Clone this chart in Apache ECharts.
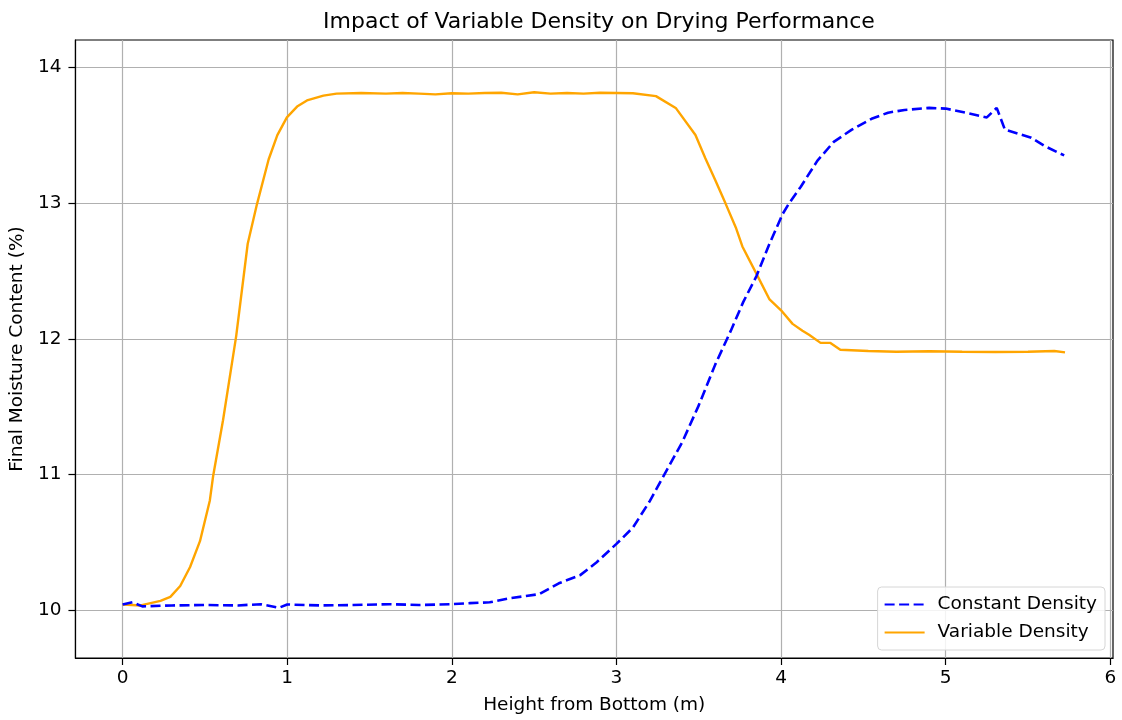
<!DOCTYPE html>
<html>
<head>
<meta charset="utf-8">
<script src="https://cdn.jsdelivr.net/npm/echarts@6/dist/echarts.min.js"></script>
<style>html,body{margin:0;padding:0;background:#fff}#c{width:1122px;height:720px}</style>
</head>
<body>
<div id="c"></div>
<script>
// Constant Density
const constX = [0.0, 0.06, 0.12, 0.3, 0.5, 0.7, 0.84, 0.95, 1.0, 1.2, 1.4, 1.62, 1.8, 1.99, 2.11, 2.23, 2.35, 2.53, 2.65, 2.78, 2.88, 3.0, 3.1, 3.2, 3.3, 3.4, 3.5, 3.6, 3.695, 3.77, 3.85, 3.93, 4.01, 4.05, 4.12, 4.22, 4.32, 4.43, 4.55, 4.65, 4.75, 4.9, 5.0, 5.12, 5.25, 5.31, 5.36, 5.52, 5.6, 5.72];
const constY = [10.044, 10.06, 10.03, 10.037, 10.04, 10.037, 10.046, 10.02, 10.044, 10.037, 10.04, 10.046, 10.04, 10.046, 10.054, 10.06, 10.09, 10.12, 10.20, 10.26, 10.355, 10.49, 10.61, 10.80, 11.02, 11.24, 11.51, 11.81, 12.06, 12.27, 12.46, 12.70, 12.92, 13.00, 13.12, 13.31, 13.45, 13.54, 13.62, 13.665, 13.685, 13.70, 13.695, 13.665, 13.63, 13.70, 13.54, 13.48, 13.42, 13.35];
// Variable Density
const varX = [0.0, 0.11, 0.23, 0.29, 0.35, 0.41, 0.47, 0.53, 0.55, 0.61, 0.69, 0.76, 0.816, 0.887, 0.94, 0.998, 1.06, 1.12, 1.22, 1.30, 1.45, 1.6, 1.7, 1.8, 1.9, 2.0, 2.1, 2.2, 2.3, 2.4, 2.5, 2.6, 2.7, 2.8, 2.9, 3.0, 3.1, 3.24, 3.36, 3.48, 3.54, 3.60, 3.665, 3.725, 3.765, 3.85, 3.93, 4.0, 4.07, 4.13, 4.17, 4.24, 4.30, 4.36, 4.53, 4.7, 4.9, 5.1, 5.3, 5.5, 5.66, 5.725];
const varY = [10.044, 10.037, 10.07, 10.10, 10.18, 10.32, 10.51, 10.81, 10.99, 11.40, 12.02, 12.70, 12.99, 13.32, 13.50, 13.63, 13.71, 13.755, 13.79, 13.805, 13.81, 13.805, 13.81, 13.805, 13.80, 13.808, 13.805, 13.81, 13.812, 13.80, 13.815, 13.805, 13.81, 13.805, 13.812, 13.81, 13.808, 13.787, 13.70, 13.50, 13.33, 13.17, 12.99, 12.82, 12.68, 12.48, 12.29, 12.21, 12.11, 12.06, 12.03, 11.97, 11.97, 11.92, 11.91, 11.905, 11.908, 11.905, 11.903, 11.905, 11.91, 11.90];
const xTicks = [0, 1, 2, 3, 4, 5, 6];
const yTicks = [10, 11, 12, 13, 14];

const zip = (a, b) => a.map((v, i) => [v, b[i]]);
const font = 'DejaVu Sans';
const chart = echarts.init(document.getElementById('c'), null, {renderer: 'canvas'});
const frame = {show: true, onZero: false, lineStyle: {color: '#000', width: 1.2}};
chart.setOption({
  animation: false,
  backgroundColor: '#fff',
  textStyle: {fontFamily: font},
  title: {
    text: 'Impact of Variable Density on Drying Performance',
    left: 594, top: 6, textAlign: 'center',
    textStyle: {fontFamily: font, fontSize: 22, fontWeight: 'normal', color: '#000'}
  },
  grid: {left: 75, right: 9, top: 40, bottom: 62, containLabel: false, show: true, borderColor: '#000', borderWidth: 1.2},
  legend: {
    orient: 'vertical', right: 17, bottom: 70,
    data: ['Constant Density', 'Variable Density'],
    itemWidth: 40, itemHeight: 14, itemGap: 9,
    padding: [8, 8, 8, 6],
    borderColor: '#d6d6d6', borderWidth: 1, borderRadius: 4,
    backgroundColor: 'rgba(255,255,255,0.85)',
    itemStyle: {opacity: 0},
    textStyle: {fontFamily: font, fontSize: 18.5, color: '#000', padding: [0, 0, 0, 8]}
  },
  xAxis: {
    type: 'value', min: -0.2865, max: 6.0165,
    name: 'Height from Bottom (m)', nameLocation: 'middle', nameGap: 38,
    nameTextStyle: {fontFamily: font, fontSize: 18.5, color: '#000'},
    axisLine: frame,
    axisTick: {show: true, length: 7, inside: false, customValues: xTicks, lineStyle: {color: '#000', width: 1.2}},
    axisLabel: {customValues: xTicks, fontFamily: font, fontSize: 18.5, color: '#000', margin: 11, formatter: v => String(v)},
    splitLine: {show: true, customValues: xTicks, lineStyle: {color: '#b0b0b0', width: 1.2}}
  },
  yAxis: {
    type: 'value', min: 9.65, max: 14.2,
    name: 'Final Moisture Content (%)', nameLocation: 'middle', nameGap: 41,
    nameTextStyle: {fontFamily: font, fontSize: 18.5, color: '#000'},
    axisLine: frame,
    axisTick: {show: true, length: 7, inside: false, customValues: yTicks, lineStyle: {color: '#000', width: 1.2}},
    axisLabel: {customValues: yTicks, fontFamily: font, fontSize: 18.5, color: '#000', margin: 14, formatter: v => String(v)},
    splitLine: {show: true, customValues: yTicks, lineStyle: {color: '#b0b0b0', width: 1.2}}
  },
  series: [
    {
      name: 'Constant Density', type: 'line', data: zip(constX, constY),
      showSymbol: false, symbol: 'none', smooth: false, z: 3,
      itemStyle: {color: '#0000ff'},
      lineStyle: {color: '#0000ff', width: 2.6, type: [10, 4.5]}
    },
    {
      name: 'Variable Density', type: 'line', data: zip(varX, varY),
      showSymbol: false, symbol: 'none', smooth: false, z: 2,
      itemStyle: {color: '#ffa500'},
      lineStyle: {color: '#ffa500', width: 2.4}
    }
  ]
});
</script>
</body>
</html>
